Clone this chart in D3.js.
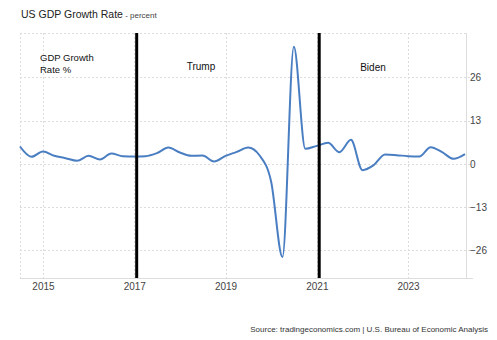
<!DOCTYPE html>
<html>
<head>
<meta charset="utf-8">
<script src="https://cdn.jsdelivr.net/npm/d3@7"></script>
<style>
  html, body { margin: 0; padding: 0; background: #fff; }
  svg { display: block; font-family: "Liberation Sans", Arial, sans-serif; }
</style>
</head>
<body>
<svg id="chart" width="497" height="340"></svg>
<script>
// Quarterly US real GDP growth, annualized QoQ %, Q3 2014 – Q2 2024
const quarters = [
  "2014-07-01","2014-10-01",
  "2015-01-01","2015-04-01","2015-07-01","2015-10-01",
  "2016-01-01","2016-04-01","2016-07-01","2016-10-01",
  "2017-01-01","2017-04-01","2017-07-01","2017-10-01",
  "2018-01-01","2018-04-01","2018-07-01","2018-10-01",
  "2019-01-01","2019-04-01","2019-07-01","2019-10-01",
  "2020-01-01","2020-04-01","2020-07-01","2020-10-01",
  "2021-01-01","2021-04-01","2021-07-01","2021-10-01",
  "2022-01-01","2022-04-01","2022-07-01","2022-10-01",
  "2023-01-01","2023-04-01","2023-07-01","2023-10-01",
  "2024-01-01","2024-04-01"
];
const growth = [
  5.2, 2.1,
  3.7, 2.4, 1.7, 0.9,
  2.4, 1.3, 3.1, 2.3,
  2.2, 2.3, 3.2, 4.9,
  3.4, 2.4, 2.5, 0.7,
  2.4, 3.6, 4.9, 2.5,
  -5.3, -28.0, 35.2, 4.5,
  5.4, 6.3, 3.5, 7.2,
  -1.9, -0.4, 2.8, 2.6,
  2.3, 2.2, 5.0, 3.5,
  1.5, 2.9
];
const yTicks = [-26, -13, 0, 13, 26];
const yearTicks = ["2015", "2017", "2019", "2021", "2023"];
const terms = [
  { date: "2017-01-20", label: "Trump" },
  { date: "2021-01-20", label: "Biden" }
];

const parse = d3.utcParse("%Y-%m-%d");
const data = quarters.map((q, i) => ({ date: parse(q), value: growth[i] }));

const svg = d3.select("#chart");
const plotL = 20, plotR = 466, plotT = 33, plotB = 278;

const x = d3.scaleUtc()
  .domain([parse("2014-07-01"), parse("2024-04-01")])
  .range([plotL, 465]);
const y = d3.scaleLinear().domain([-34.3, 39.3]).range([plotB, plotT]);

// Title
const title = svg.append("text").attr("x", 21).attr("y", 18)
  .attr("fill", "#222").attr("font-size", 10.5);
title.append("tspan").text("US GDP Growth Rate");
title.append("tspan").attr("font-size", 8).attr("fill", "#444").text(" - percent");

// Grid
const grid = svg.append("g").attr("stroke", "#dcdcdc").attr("stroke-dasharray", "2,2").attr("stroke-width", 1);
grid.selectAll("line.h").data(yTicks).join("line")
  .attr("x1", plotL).attr("x2", 473)
  .attr("y1", d => Math.round(y(d)) + 0.5).attr("y2", d => Math.round(y(d)) + 0.5);
grid.append("line").attr("x1", plotL).attr("x2", plotR).attr("y1", plotT + 0.5).attr("y2", plotT + 0.5);
grid.selectAll("line.v").data(yearTicks).join("line")
  .attr("x1", d => Math.round(x(parse(d + "-01-01"))) + 0.5)
  .attr("x2", d => Math.round(x(parse(d + "-01-01"))) + 0.5)
  .attr("y1", plotT).attr("y2", plotB);
grid.append("line").attr("x1", plotL + 0.5).attr("x2", plotL + 0.5).attr("y1", plotT).attr("y2", plotB);

// Frame lines
svg.append("line").attr("x1", plotL).attr("x2", 473).attr("y1", plotB + 0.5).attr("y2", plotB + 0.5)
  .attr("stroke", "#ddd");
svg.append("line").attr("x1", plotR + 0.5).attr("x2", plotR + 0.5).attr("y1", plotT).attr("y2", plotB)
  .attr("stroke", "#ddd");

// Axes
const yAxis = d3.axisRight(y).tickValues(yTicks).tickSize(0).tickPadding(0);
const gy = svg.append("g").attr("transform", `translate(470,0)`).call(yAxis);
gy.select(".domain").remove();
gy.selectAll("text").attr("font-size", 10).attr("fill", "#444")
  .attr("font-family", "Liberation Sans, Arial, sans-serif");

const xAxis = d3.axisBottom(x)
  .tickValues(yearTicks.map(d => parse(d + "-01-01")))
  .tickFormat(d3.utcFormat("%Y")).tickSize(0).tickPadding(0);
const gx = svg.append("g").attr("transform", `translate(0,282.5)`).call(xAxis);
gx.select(".domain").remove();
gx.selectAll("text").attr("font-size", 10).attr("fill", "#444")
  .attr("font-family", "Liberation Sans, Arial, sans-serif");

// Series
const line = d3.line().x(d => x(d.date)).y(d => y(d.value)).curve(d3.curveMonotoneX);
svg.append("path").datum(data)
  .attr("fill", "none").attr("stroke", "#4a7ec2").attr("stroke-width", 2)
  .attr("stroke-linejoin", "round").attr("d", line);

// Inauguration markers
svg.selectAll("line.term").data(terms).join("line")
  .attr("x1", d => x(parse(d.date))).attr("x2", d => x(parse(d.date)))
  .attr("y1", plotT).attr("y2", plotB)
  .attr("stroke", "#000").attr("stroke-width", 3);

svg.append("text").attr("x", 201).attr("y", 70).attr("text-anchor", "middle")
  .attr("font-size", 10).attr("fill", "#111").text("Trump");
svg.append("text").attr("x", 373).attr("y", 71).attr("text-anchor", "middle")
  .attr("font-size", 10).attr("fill", "#111").text("Biden");

const note = svg.append("text").attr("font-size", 9.5).attr("fill", "#111");
note.append("tspan").attr("x", 40).attr("y", 61).text("GDP Growth");
note.append("tspan").attr("x", 40).attr("y", 73).text("Rate %");

// Source
svg.append("text").attr("x", 488).attr("y", 332).attr("text-anchor", "end")
  .attr("font-size", 8).attr("fill", "#333")
  .text("Source: tradingeconomics.com | U.S. Bureau of Economic Analysis");
</script>
</body>
</html>
